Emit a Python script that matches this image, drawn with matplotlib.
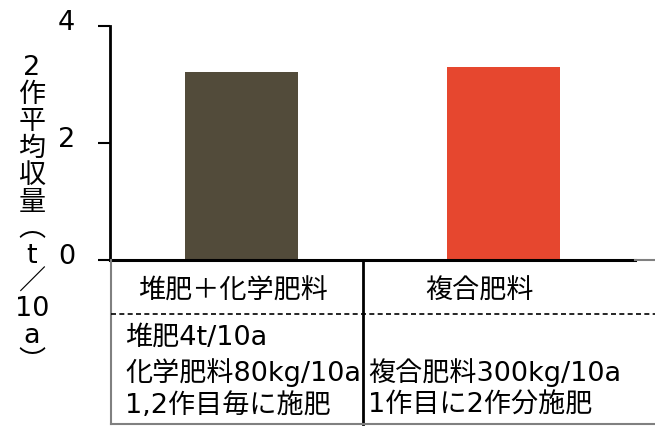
import matplotlib
matplotlib.use("Agg")
import matplotlib.pyplot as plt
from matplotlib.lines import Line2D
from matplotlib.transforms import ScaledTranslation

FONT = ["DejaVu Sans", "Noto Sans CJK JP"]
plt.rcParams["font.family"] = FONT

# data
categories = ["堆肥＋化学肥料", "複合肥料"]
yields = [3.21, 3.30]
bar_colors = ["#524b3a", "#e6472f"]
yticks = [0, 2, 4]
ylabel_chars = ["2", "作", "平", "均", "収", "量", "︵", "t", "／", "10", "a", "︶"]
details = [
    ["堆肥4t/10a", "化学肥料80kg/10a", "1,2作目毎に施肥"],
    ["", "複合肥料300kg/10a", "1作目に2作分施肥"],
]

W, H = 655, 427
FS = 19.5
fig = plt.figure(figsize=(W / 100, H / 100), dpi=100)


def fx(x):
    return x / W


def fy(y):
    return 1 - y / H


ax = fig.add_axes([fx(110), fy(261), fx(635) - fx(110), fy(27) - fy(261)])
x = range(len(categories))
ax.bar(x, yields, width=0.43, color=bar_colors)
ax.set_xlim(-0.5, 1.5)
ax.set_ylim(0, 4)
ax.set_yticks(yticks)
ax.set_xticks([])
for s in ["top", "right"]:
    ax.spines[s].set_visible(False)
ax.spines["left"].set_linewidth(2)
ax.spines["bottom"].set_linewidth(2.2)
ax.tick_params(axis="y", length=9, width=1.5, pad=16, labelsize=FS)
for lab in ax.get_yticklabels():
    lab.set_transform(lab.get_transform() + ScaledTranslation(0, 5 / 72, fig.dpi_scale_trans))

# vertical y label, one glyph per row
y0, step = 68, 26.8
for i, ch in enumerate(ylabel_chars):
    fam = ["Noto Sans CJK JP", "DejaVu Sans"] if ch in "作平均収量︵／︶" else FONT
    fig.text(fx(32), fy(y0 + i * step), ch, ha="center", va="center",
             fontsize=FS, family=fam)

# table lines below the axis
grey = "#808080"
lines = [
    ((111, 111), (261, 425), grey, "-", 1.5),
    ((363, 363), (261, 425), "black", "-", 2.0),
    ((111, 655), (315, 315), "black", (0, (3, 2)), 1.2),
    ((111, 655), (425, 425), grey, "-", 1.5),
    ((635, 655), (261, 261), grey, "-", 1.5),
]
for xs, ys, c, ls, lw in lines:
    fig.add_artist(Line2D([fx(v) for v in xs], [fy(v) for v in ys],
                          transform=fig.transFigure, color=c, linestyle=ls, linewidth=lw))

header_x = [233, 480]
for cx, name in zip(header_x, categories):
    fig.text(fx(cx), fy(292), name, ha="center", va="center", fontsize=FS)

detail_x = [125, 368]
line_y = [338, 373, 406]
for dx, rows in zip(detail_x, details):
    for ly, txt in zip(line_y, rows):
        if txt:
            fig.text(fx(dx), fy(ly), txt, ha="left", va="center", fontsize=FS)

fig.savefig("out.png", dpi=100)
